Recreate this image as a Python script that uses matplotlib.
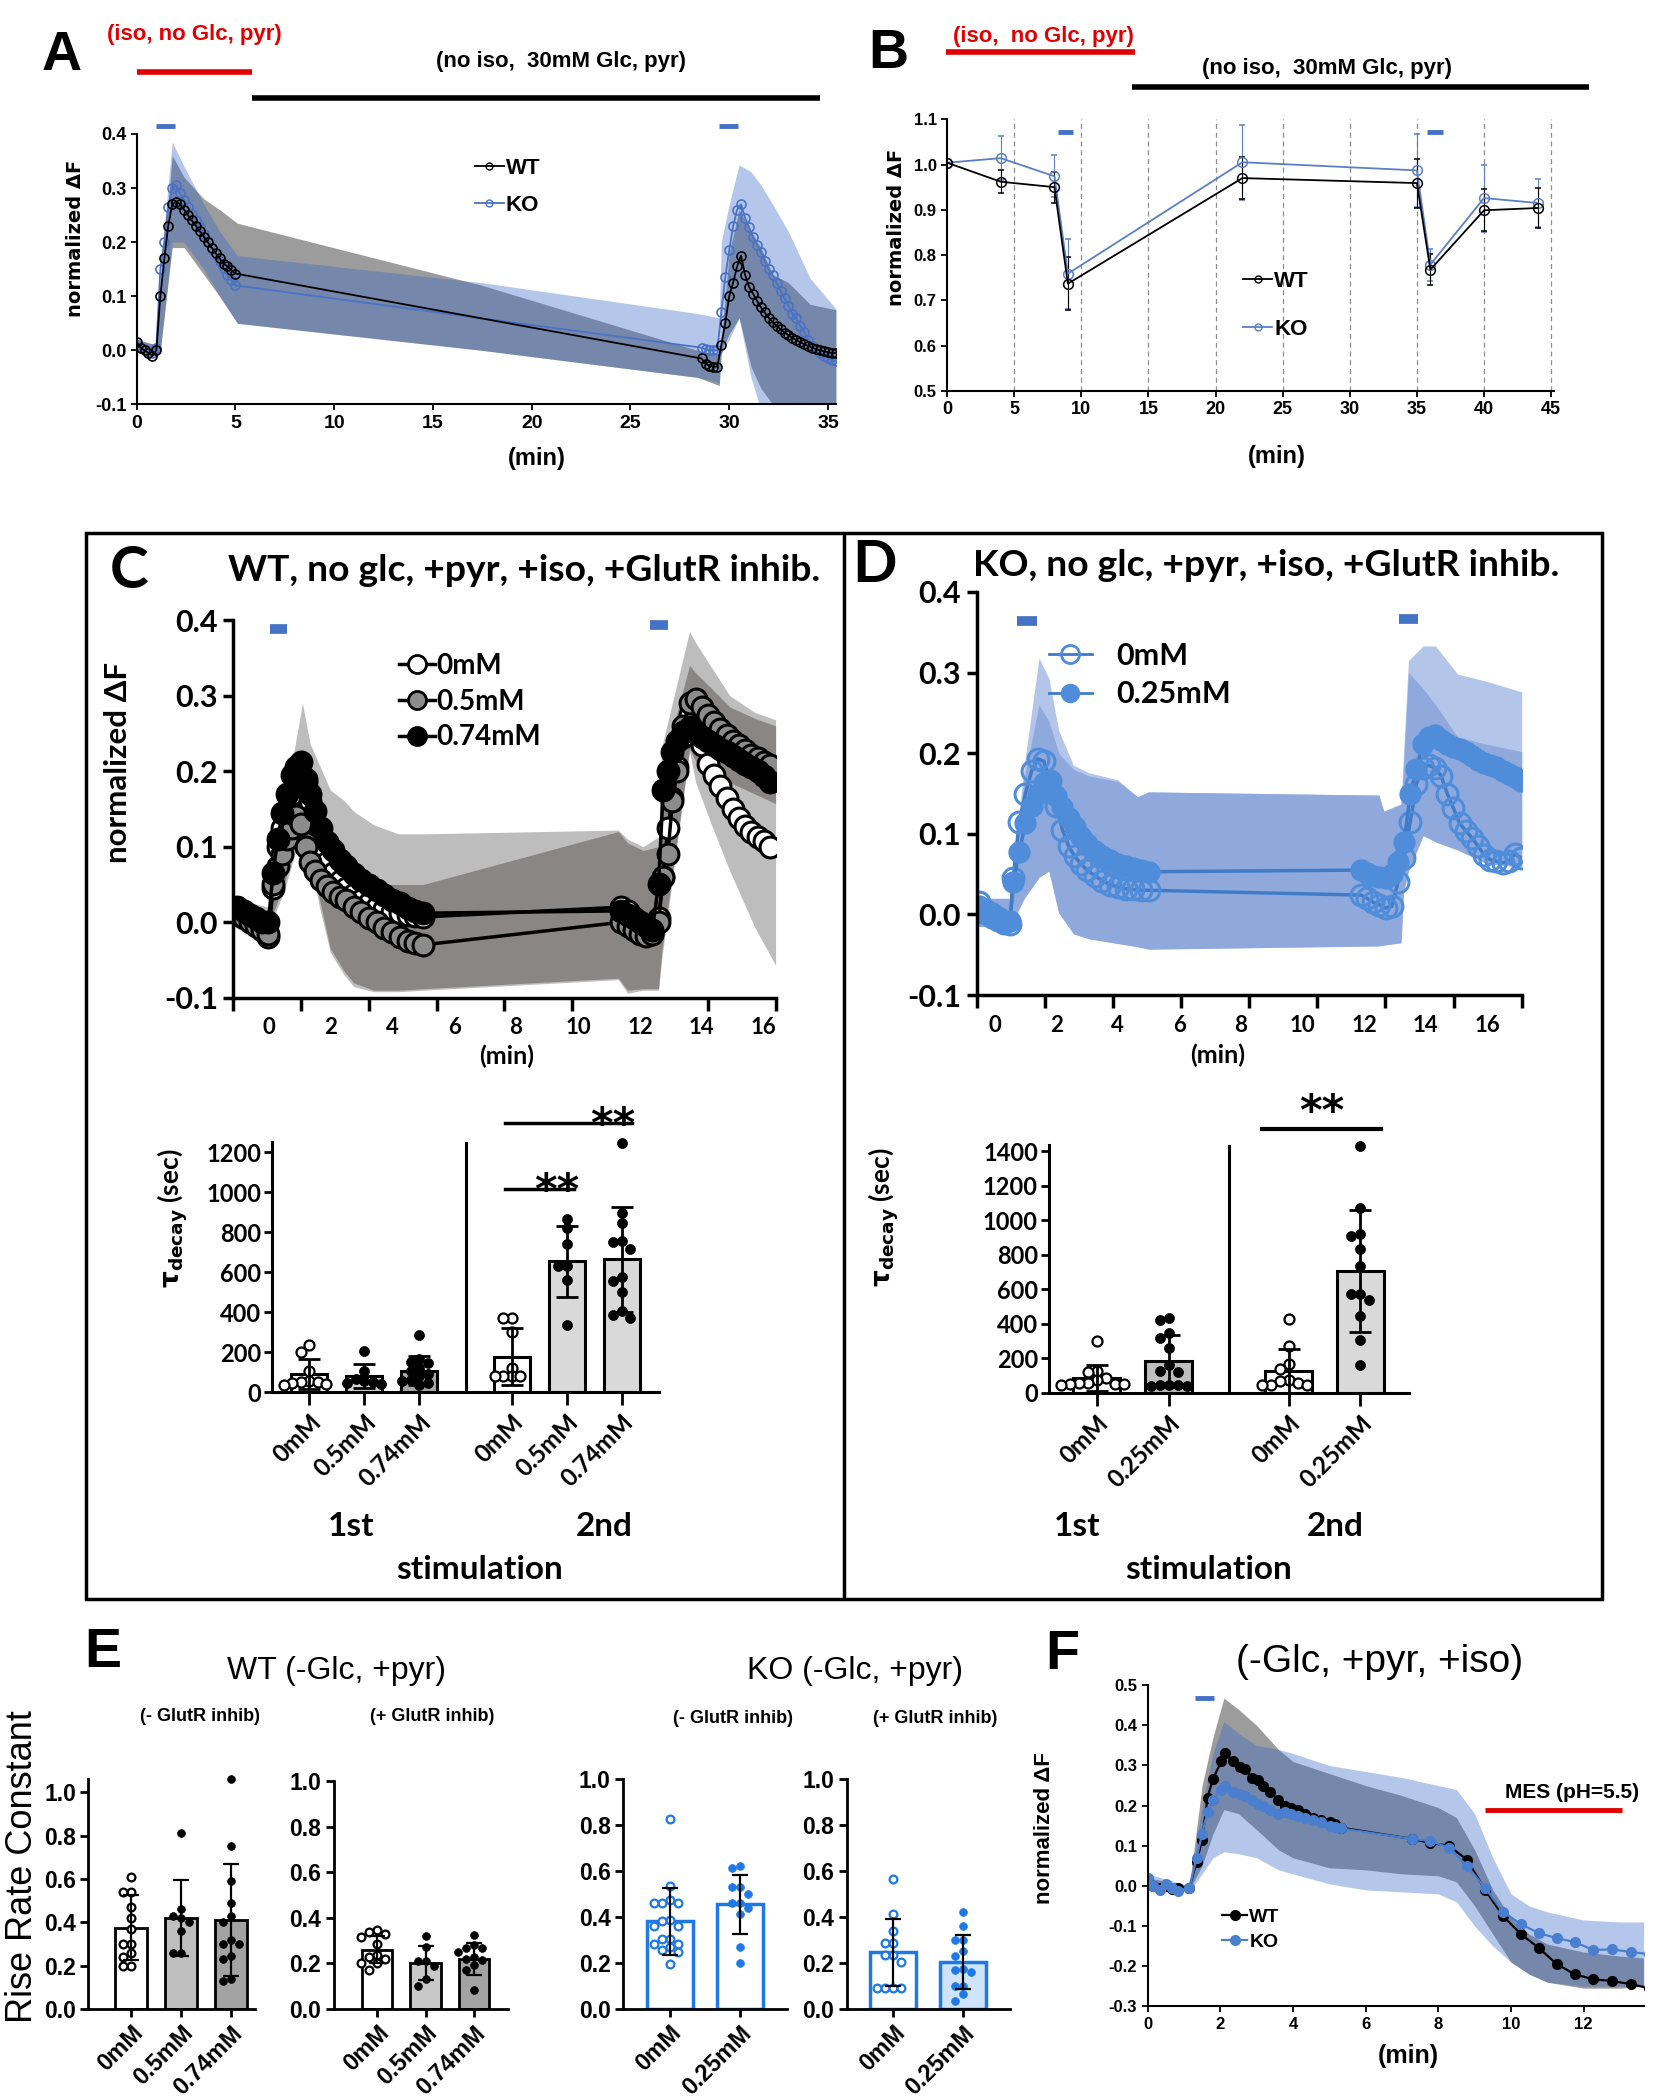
import numpy as np
import matplotlib
matplotlib.use("Agg")
import matplotlib.pyplot as plt
from matplotlib.lines import Line2D
from matplotlib.patches import Rectangle
import logging
logging.getLogger('matplotlib.font_manager').setLevel(logging.ERROR)

# ====================== DATA ======================
# ---- Panel A (time course, WT vs KO) ----
tA = [0.0, 0.2, 0.4, 0.6, 0.8, 1.0, 1.2, 1.4, 1.6, 1.8, 2.0, 2.2, 2.4, 2.6, 2.8, 3.0, 3.2, 3.4, 3.6,
      3.8, 4.0, 4.2, 4.4, 4.6, 4.8, 5.0,
      28.6, 28.8, 29.0, 29.2, 29.4, 29.6, 29.8, 30.0, 30.2, 30.4, 30.6, 30.8, 31.0, 31.2, 31.4,
      31.6, 31.8, 32.0, 32.2, 32.4, 32.6, 32.8, 33.0, 33.2, 33.4, 33.6, 33.8, 34.0, 34.2, 34.4,
      34.6, 34.8, 35.0, 35.2, 35.4]
wtA = [0.015, 0.005, 0.0, -0.005, -0.01, 0.0, 0.1, 0.17, 0.23, 0.27, 0.275, 0.27, 0.26, 0.25, 0.24,
       0.23, 0.22, 0.21, 0.2, 0.19, 0.18, 0.17, 0.16, 0.155, 0.148, 0.142,
       -0.015, -0.025, -0.028, -0.03, -0.03, 0.01, 0.05, 0.1, 0.125, 0.155, 0.175, 0.14, 0.118,
       0.105, 0.092, 0.08, 0.07, 0.06, 0.052, 0.045, 0.039, 0.033, 0.028, 0.023, 0.019, 0.015,
       0.011, 0.008, 0.005, 0.002, 0.0, -0.002, -0.003, -0.005, -0.005]
koA = [0.01, 0.005, 0.0, -0.005, -0.005, 0.005, 0.15, 0.2, 0.265, 0.3, 0.305, 0.29, 0.278, 0.265,
       0.252, 0.24, 0.228, 0.215, 0.203, 0.19, 0.178, 0.165, 0.152, 0.14, 0.13, 0.12,
       0.005, 0.002, 0.0, 0.0, 0.0, 0.07, 0.135, 0.185, 0.23, 0.26, 0.27, 0.245, 0.228, 0.21,
       0.195, 0.182, 0.165, 0.15, 0.139, 0.125, 0.11, 0.096, 0.082, 0.068, 0.059, 0.045, 0.034,
       0.02, 0.008, 0.003, -0.005, -0.01, -0.015, -0.018, -0.02]
tA_band = [0.0, 1.0, 1.2, 1.8, 2.4, 3.4, 4.2, 5.1, 17.5, 28.4, 29.5, 29.6, 30.0, 30.5, 31.1, 31.6,
           32.2, 33.0, 34.1, 35.4]
wtA_up = [0.02, 0.01, 0.1, 0.36, 0.32, 0.28, 0.26, 0.235, 0.12, 0.0, -0.01, 0.02, 0.18, 0.26, 0.22,
          0.19, 0.14, 0.125, 0.085, 0.075]
wtA_lo = [0.0, -0.012, 0.0, 0.19, 0.19, 0.14, 0.1, 0.05, 0.0, -0.05, -0.065, 0.0, 0.03, 0.06,
          -0.03, -0.07, -0.1, -0.11, -0.11, -0.11]
koA_up = [0.02, 0.01, 0.15, 0.385, 0.34, 0.27, 0.22, 0.175, 0.125, 0.068, 0.06, 0.2, 0.27, 0.343,
          0.33, 0.306, 0.27, 0.219, 0.133, 0.077]
koA_lo = [0.0, -0.015, 0.0, 0.2, 0.2, 0.15, 0.1, 0.05, 0.0, -0.05, -0.06, -0.005, 0.02, 0.06,
          -0.05, -0.11, -0.11, -0.11, -0.11, -0.11]

# ---- Panel B ----
tB = [0, 4, 8, 9, 22, 35, 36, 40, 44]
wtB = [1.004, 0.962, 0.95, 0.737, 0.97, 0.959, 0.768, 0.899, 0.904]
wtB_err = [0.0, 0.025, 0.034, 0.058, 0.046, 0.054, 0.035, 0.046, 0.045]
koB = [1.004, 1.014, 0.974, 0.759, 1.005, 0.987, 0.779, 0.926, 0.915]
koB_err = [0.0, 0.049, 0.046, 0.077, 0.083, 0.08, 0.035, 0.074, 0.053]

# ---- Panel C (WT, glutamate-receptor inhibition) ----
tC = [-1.0, -0.8, -0.6, -0.4, -0.2, 0.0, 0.15, 0.3, 0.45, 0.6, 0.75, 0.9, 1.05, 1.2, 1.35, 1.5,
      1.7, 1.9, 2.1, 2.3, 2.5, 2.75, 3.0, 3.25, 3.5, 3.75, 4.0, 4.25, 4.5, 4.75, 5.0,
      11.4, 11.6, 11.8, 12.0, 12.2, 12.4, 12.6, 12.75, 12.9, 13.05, 13.2, 13.4, 13.6, 13.8, 14.0,
      14.2, 14.4, 14.6, 14.8, 15.0, 15.2, 15.4, 15.6, 15.8, 16.0, 16.2]
C_0mM = [0.015, 0.01, 0.005, 0.0, -0.01, -0.02, 0.045, 0.1, 0.125, 0.15, 0.17, 0.185, 0.19, 0.185,
         0.16, 0.13, 0.1, 0.08, 0.065, 0.055, 0.045, 0.037, 0.03, 0.025, 0.02, 0.017, 0.014,
         0.012, 0.01, 0.008, 0.007,
         0.02, 0.015, 0.005, -0.005, -0.01, -0.015, 0.005, 0.06, 0.125, 0.165, 0.205, 0.245,
         0.275, 0.26, 0.235, 0.21, 0.195, 0.18, 0.165, 0.15, 0.138, 0.128, 0.12, 0.113, 0.107, 0.1]
C_05mM = [0.01, 0.005, 0.0, -0.005, -0.01, -0.015, 0.05, 0.075, 0.09, 0.11, 0.125, 0.14, 0.13,
          0.1, 0.08, 0.068, 0.056, 0.048, 0.04, 0.034, 0.029, 0.02, 0.013, 0.006, 0.0, -0.007,
          -0.013, -0.02, -0.025, -0.028, -0.03,
          0.0, -0.005, -0.01, -0.015, -0.018, -0.015, 0.0, 0.06, 0.09, 0.16, 0.2, 0.26, 0.29,
          0.295, 0.285, 0.275, 0.265, 0.256, 0.248, 0.24, 0.234, 0.228, 0.222, 0.217, 0.212, 0.208]
C_074mM = [0.02, 0.015, 0.01, 0.005, 0.0, 0.0, 0.065, 0.11, 0.145, 0.17, 0.195, 0.205, 0.212,
           0.19, 0.17, 0.147, 0.125, 0.106, 0.095, 0.082, 0.075, 0.064, 0.056, 0.049, 0.043,
           0.036, 0.03, 0.025, 0.019, 0.015, 0.012,
           0.015, 0.01, 0.005, 0.0, -0.005, -0.01, 0.05, 0.175, 0.2, 0.225, 0.24, 0.252, 0.258,
           0.252, 0.245, 0.24, 0.235, 0.23, 0.225, 0.22, 0.215, 0.21, 0.205, 0.2, 0.193, 0.186]
tC_band = [-1.14, -0.5, 0.0, 0.5, 1.1, 1.35, 1.65, 2.0, 2.45, 2.75, 3.4, 4.2, 5.0, 11.3, 11.6,
           12.1, 12.6, 12.7, 13.6, 13.8, 14.3, 14.9, 15.7, 16.38]
C_outer_up = [0.03, 0.025, 0.02, 0.15, 0.29, 0.236, 0.208, 0.175, 0.161, 0.147, 0.129, 0.117,
              0.117, 0.122, 0.11, 0.1, 0.113, 0.231, 0.385, 0.37, 0.338, 0.3, 0.278, 0.268]
C_outer_lo = [0.0, -0.005, -0.01, 0.04, 0.124, 0.08, 0.02, -0.04, -0.07, -0.085, -0.092, -0.092,
              -0.09, -0.076, -0.094, -0.09, -0.09, -0.05, 0.226, 0.185, 0.13, 0.068, -0.006,
              -0.057]
C_inner_up = [0.025, 0.02, 0.015, 0.12, 0.23, 0.17, 0.12, 0.073, 0.065, 0.059, 0.05, 0.05, 0.05,
              0.12, 0.105, 0.095, 0.1, 0.2, 0.34, 0.33, 0.31, 0.285, 0.27, 0.26]
C_inner_lo = [0.005, 0.0, -0.005, 0.05, 0.13, 0.09, 0.03, -0.035, -0.065, -0.08, -0.09, -0.09,
              -0.088, -0.074, -0.09, -0.088, -0.088, -0.04, 0.23, 0.213, 0.2, 0.185, 0.17, 0.157]

C_groups = ["0mM", "0.5mM", "0.74mM", "0mM", "0.5mM", "0.74mM"]
C_tau_mean = [90, 80, 107, 177, 654, 664]
C_tau_sd = [77, 60, 72, 142, 179, 261]
C_tau_pts = [[235, 200, 104, 55, 50, 48, 45, 40, 35],
             [204, 104, 65, 55, 50, 45, 40],
             [285, 165, 150, 145, 120, 105, 90, 78, 62, 55, 45, 37],
             [372, 370, 300, 120, 78, 78, 78, 78],
             [868, 823, 741, 633, 633, 563, 334],
             [1247, 898, 847, 756, 750, 716, 576, 554, 499, 407, 388, 371]]

# ---- Panel D (KO, glutamate-receptor inhibition) ----
tD = [-0.5, -0.3, -0.1, 0.1, 0.3, 0.5, 0.6, 0.8, 1.0, 1.2, 1.4, 1.6, 1.8, 2.0, 2.2, 2.4, 2.6,
      2.8, 3.0, 3.25, 3.5, 3.75, 4.0, 4.25, 4.5, 4.75, 5.0,
      11.9, 12.1, 12.3, 12.5, 12.7, 12.9, 13.1, 13.3, 13.5, 13.7, 13.9, 14.1, 14.3, 14.5, 14.7,
      14.9, 15.1, 15.3, 15.5, 15.7, 15.9, 16.1, 16.3, 16.5, 16.7, 16.9, 17.1]
D_0mM = [0.015, 0.005, 0.0, -0.005, -0.01, -0.012, 0.045, 0.115, 0.15, 0.178, 0.193, 0.19, 0.165,
         0.135, 0.105, 0.085, 0.072, 0.063, 0.055, 0.048, 0.042, 0.037, 0.034, 0.032, 0.031,
         0.03, 0.03,
         0.024, 0.02, 0.015, 0.012, 0.008, 0.01, 0.04, 0.07, 0.115, 0.162, 0.182, 0.185, 0.182,
         0.172, 0.15, 0.132, 0.113, 0.104, 0.095, 0.085, 0.074, 0.068, 0.066, 0.064, 0.066,
         0.075, 0.07]
D_025mM = [0.01, 0.0, -0.005, -0.008, -0.01, -0.008, 0.04, 0.078, 0.113, 0.135, 0.15, 0.163,
           0.163, 0.147, 0.133, 0.12, 0.108, 0.096, 0.087, 0.079, 0.072, 0.067, 0.063, 0.06,
           0.058, 0.055, 0.053,
           0.055, 0.052, 0.048, 0.046, 0.045, 0.05, 0.065, 0.09, 0.15, 0.18, 0.212, 0.22, 0.222,
           0.216, 0.212, 0.208, 0.205, 0.201, 0.197, 0.192, 0.188, 0.185, 0.183, 0.178, 0.174,
           0.17, 0.165]
tD_band = [-0.59, 0.5, 0.96, 1.44, 1.76, 2.08, 2.56, 3.04, 4.0, 4.64, 5.0, 12.48, 12.64, 13.2,
           13.28, 13.44, 13.92, 14.32, 15.04, 16.0, 17.12]
D_outer_up = [0.02, 0.02, 0.185, 0.318, 0.293, 0.228, 0.185, 0.176, 0.167, 0.146, 0.152, 0.148,
              0.128, 0.137, 0.2, 0.315, 0.333, 0.333, 0.298, 0.289, 0.276]
D_outer_lo = [-0.015, -0.015, 0.02, 0.046, 0.054, 0.002, -0.024, -0.03, -0.036, -0.04, -0.043,
              -0.039, -0.038, -0.035, 0.028, 0.054, 0.098, 0.09, 0.08, 0.063, 0.059]
D_inner_up = [0.02, 0.02, 0.17, 0.26, 0.24, 0.2, 0.18, 0.172, 0.165, 0.146, 0.152, 0.148, 0.128,
              0.137, 0.18, 0.3, 0.28, 0.26, 0.22, 0.211, 0.202]
D_inner_lo = [-0.015, -0.015, 0.02, 0.046, 0.054, 0.002, -0.024, -0.03, -0.036, -0.04, -0.043,
              -0.039, -0.038, -0.035, 0.028, 0.054, 0.098, 0.09, 0.08, 0.063, 0.059]

D_groups = ["0mM", "0.25mM", "0mM", "0.25mM"]
D_tau_mean = [87, 185, 127, 705]
D_tau_sd = [77, 153, 126, 353]
D_tau_pts = [[299, 128, 122, 85, 75, 60, 55, 52, 50, 50, 48],
             [434, 425, 347, 319, 261, 164, 125, 120, 48, 46, 44, 42, 40],
             [429, 270, 168, 139, 73, 68, 58, 48, 48, 48],
             [1429, 1071, 923, 911, 834, 734, 575, 575, 537, 448, 309, 160]]

# ---- Panel E (rise rate constants) ----
E_wt_groups = ["0mM", "0.5mM", "0.74mM"]
E_ko_groups = ["0mM", "0.25mM"]
E1_mean = [0.375, 0.42, 0.41]
E1_sd = [0.15, 0.175, 0.26]
E1_pts = [[0.61, 0.54, 0.54, 0.47, 0.42, 0.37, 0.3, 0.3, 0.26, 0.24, 0.2, 0.2],
          [0.81, 0.46, 0.43, 0.42, 0.4, 0.36, 0.26, 0.26],
          [1.06, 0.75, 0.59, 0.49, 0.43, 0.4, 0.32, 0.3, 0.3, 0.245, 0.23, 0.14, 0.13]]
E2_mean = [0.26, 0.2, 0.22]
E2_sd = [0.06, 0.075, 0.07]
E2_pts = [[0.345, 0.338, 0.33, 0.316, 0.284, 0.236, 0.229, 0.221, 0.202, 0.202, 0.17],
          [0.32, 0.27, 0.21, 0.21, 0.19, 0.13, 0.1],
          [0.323, 0.28, 0.269, 0.269, 0.25, 0.229, 0.221, 0.214, 0.192, 0.17, 0.083]]
E3_mean = [0.38, 0.455]
E3_sd = [0.145, 0.128]
E3_pts = [[0.825, 0.533, 0.474, 0.458, 0.458, 0.458, 0.387, 0.382, 0.358, 0.358, 0.304, 0.304,
           0.283, 0.283, 0.269, 0.255, 0.248, 0.197],
          [0.62, 0.61, 0.53, 0.53, 0.5, 0.46, 0.46, 0.44, 0.41, 0.27, 0.2]]
E4_mean = [0.245, 0.205]
E4_sd = [0.145, 0.117]
E4_pts = [[0.562, 0.413, 0.339, 0.285, 0.285, 0.234, 0.234, 0.204, 0.092, 0.092, 0.092, 0.092],
          [0.42, 0.36, 0.3, 0.3, 0.25, 0.23, 0.175, 0.17, 0.16, 0.1, 0.1, 0.065, 0.035]]

# ---- Panel F ----
tF = [0.0, 0.16, 0.34, 0.52, 0.66, 0.84, 1.15, 1.35, 1.5, 1.65, 1.8, 2.03, 2.13, 2.34, 2.54, 2.68,
      2.86, 3.04, 3.18, 3.36, 3.59, 3.78, 3.96, 4.14, 4.33, 4.56, 4.78, 5.01, 5.15, 5.33, 7.28,
      7.78, 8.29, 8.79, 9.29, 9.78, 10.27, 10.77, 11.26, 11.75, 12.27, 12.78, 13.3, 13.8]
wtF = [0.01, 0.0, -0.005, 0.0, -0.008, -0.005, -0.005, 0.06, 0.115, 0.22, 0.267, 0.31, 0.33, 0.31,
       0.295, 0.29, 0.27, 0.265, 0.25, 0.235, 0.215, 0.2, 0.195, 0.19, 0.18, 0.17, 0.165, 0.16,
       0.155, 0.145, 0.117, 0.107, 0.1, 0.065, -0.01, -0.075, -0.12, -0.155, -0.195, -0.22,
       -0.233, -0.237, -0.245, -0.255]
koF = [0.02, 0.0, -0.01, 0.005, -0.005, -0.012, -0.005, 0.07, 0.13, 0.184, 0.215, 0.24, 0.25,
       0.235, 0.23, 0.225, 0.215, 0.205, 0.2, 0.19, 0.18, 0.185, 0.18, 0.175, 0.17, 0.165, 0.16,
       0.15, 0.147, 0.143, 0.117, 0.112, 0.095, 0.05, -0.005, -0.065, -0.095, -0.118, -0.13,
       -0.14, -0.16, -0.158, -0.165, -0.17]
tF_band = [0.0, 1.15, 1.5, 1.8, 2.1, 2.5, 3.0, 3.6, 4.0, 5.0, 6.0, 7.0, 8.0, 8.5, 9.0, 9.5, 10.0,
           10.5, 11.0, 12.0, 13.0, 13.65]
wtF_up = [0.02, 0.0, 0.25, 0.37, 0.468, 0.44, 0.4, 0.34, 0.31, 0.28, 0.25, 0.225, 0.195, 0.17,
          0.09, -0.01, -0.08, -0.12, -0.145, -0.165, -0.175, -0.18]
wtF_lo = [0.0, -0.01, 0.05, 0.13, 0.19, 0.18, 0.14, 0.09, 0.07, 0.045, 0.04, 0.03, 0.025, 0.01,
          -0.05, -0.12, -0.19, -0.22, -0.24, -0.255, -0.255, -0.25]
koF_up = [0.03, 0.0, 0.2, 0.33, 0.41, 0.38, 0.35, 0.34, 0.33, 0.3, 0.285, 0.27, 0.25, 0.24, 0.18,
          0.07, -0.02, -0.05, -0.065, -0.085, -0.09, -0.09]
koF_lo = [0.0, -0.015, 0.03, 0.07, 0.085, 0.08, 0.07, 0.04, 0.03, 0.005, -0.01, -0.015, -0.02,
          -0.04, -0.1, -0.15, -0.19, -0.22, -0.24, -0.25, -0.25, -0.25]

# ====================== STYLE / HELPERS ======================
NARROW = ['Liberation Sans Narrow', 'Liberation Sans', 'DejaVu Sans']
CAL = ['Lato', 'DejaVu Sans']
ARIAL = ['Liberation Sans', 'DejaVu Sans']
WIDE = ['DejaVu Sans']
BLUE_STIM = '#4472c4'
WT_FILL, WT_A = '#5a5a5a', 0.6
KO_FILL, KO_A = '#3467c6', 0.37

W, H = 1237.0, 1568.0
fig = plt.figure(figsize=(16.57, 21.0), dpi=100)


def add_ax(x0, y0, x1, y1):
    return fig.add_axes([x0 / W, 1 - y1 / H, (x1 - x0) / W, (y1 - y0) / H])


def ftext(x, y, s, **kw):
    kw.setdefault('ha', 'center')
    kw.setdefault('va', 'center')
    return fig.text(x / W, 1 - y / H, s, **kw)


def fline(x0, y0, x1, y1, **kw):
    fig.add_artist(Line2D([x0 / W, x1 / W], [1 - y0 / H, 1 - y1 / H],
                          transform=fig.transFigure, solid_capstyle='butt', **kw))


def base_style(ax, lw):
    for s in ('top', 'right'):
        ax.spines[s].set_visible(False)
    for s in ('left', 'bottom'):
        ax.spines[s].set_linewidth(lw)
    ax.patch.set_alpha(0)


def swarm(ax, vals, center, diam_px):
    bb = ax.get_position()
    w_px = bb.width * fig.get_figwidth() * fig.dpi
    h_px = bb.height * fig.get_figheight() * fig.dpi
    x0, x1 = ax.get_xlim()
    y0, y1 = ax.get_ylim()
    dx = diam_px * (x1 - x0) / w_px
    dy = diam_px * (y1 - y0) / h_px
    xs, placed = [], []
    for v in vals:
        x = center
        for k in (0, -1, 1, -2, 2, -3, 3, -4, 4):
            x = center + k * dx
            if all(((x - px) / dx) ** 2 + ((v - py) / dy) ** 2 >= 0.9 for px, py in placed):
                break
        placed.append((x, v))
        xs.append(x)
    return xs


def bar_panel(ax, pos, means, sds, pts, fills, edge, open_flags, pt_color, diam_px, ms,
              bar_lw, width, capsize, elw):
    ax.bar(pos, means, width=width, color=fills, edgecolor=edge, linewidth=bar_lw, zorder=2)
    for p, vals, is_open in zip(pos, pts, open_flags):
        xs = swarm(ax, vals, p, diam_px)
        ax.scatter(xs, vals, s=ms ** 2, facecolor='white' if is_open else pt_color,
                   edgecolor=pt_color, linewidth=1.6 if is_open else 0.5, zorder=4, clip_on=False)
    ax.errorbar(pos, means, yerr=sds, fmt='none', ecolor='k', elinewidth=elw, capsize=capsize,
                capthick=elw, zorder=5)


# ====================== PANEL A ======================
axA = add_ax(102, 100, 624, 302)
base_style(axA, 1.5)
axA.set_xlim(0, 35.4)
axA.set_ylim(-0.1, 0.4)
axA.fill_between(tA_band, wtA_lo, wtA_up, color=WT_FILL, alpha=WT_A, lw=0)
axA.fill_between(tA_band, koA_lo, koA_up, color=KO_FILL, alpha=KO_A, lw=0)
axA.plot(tA, koA, color='#4a72c4', lw=1.3, marker='o', ms=6.5, mfc='none', mew=1.2)
axA.plot(tA, wtA, color='k', lw=1.3, marker='o', ms=6.5, mfc='none', mew=1.2)
for x0, x1 in [(1.0, 1.95), (29.5, 30.45)]:
    axA.plot([x0, x1], [0.415, 0.415], color=BLUE_STIM, lw=3.5, solid_capstyle='butt',
             clip_on=False)
yt = [-0.1, 0.0, 0.1, 0.2, 0.3, 0.4]
axA.set_yticks(yt, labels=[f"{v:.1f}" for v in yt], fontsize=13, fontweight='bold', family=NARROW)
axA.set_xticks(range(0, 36, 5), labels=[str(v) for v in range(0, 36, 5)], fontsize=14,
               fontweight='bold', family=NARROW)
axA.tick_params(length=4, width=1.3, direction='out')
hA = [Line2D([], [], color='k', lw=1.3, marker='o', ms=5, mfc='none'),
      Line2D([], [], color='#4a72c4', lw=1.3, marker='o', ms=5, mfc='none')]
axA.legend(hA, ['WT', 'KO'], loc='upper left', bbox_to_anchor=(0.455, 0.985), frameon=False,
           handlelength=1.3, handletextpad=0.1, labelspacing=0.7,
           prop=dict(family=NARROW, weight='bold', size=16))
ftext(46, 42, 'A', fontsize=40, fontweight='bold', family=ARIAL)
ftext(145, 26, '(iso, no Glc, pyr)', color='#e00000', fontsize=16, fontweight='bold', family=NARROW)
fline(102, 54, 188, 54, color='#e00000', lw=4)
ftext(419, 46, '(no iso,  30mM Glc, pyr)', fontsize=16, fontweight='bold', family=NARROW)
fline(188, 73, 612, 73, color='k', lw=4)
ftext(56, 178, 'normalized ΔF', rotation=90, fontsize=14, fontweight='bold', family=WIDE)
ftext(401, 342, '(min)', fontsize=17, fontweight='bold', family=NARROW)

# ====================== PANEL B ======================
axB = add_ax(707, 89, 1160, 292)
base_style(axB, 1.5)
axB.set_xlim(0, 45.2)
axB.set_ylim(0.5, 1.1)
for xv in range(5, 46, 5):
    axB.axvline(xv, color='#8c8c8c', ls=(0, (4, 3)), lw=0.9, zorder=0)
axB.errorbar(tB, koB, yerr=koB_err, color='#5b7fc7', lw=1.3, marker='o', ms=7, mfc='none',
             mew=1.1, capsize=2.5, elinewidth=0.8, capthick=0.8)
axB.errorbar(tB, wtB, yerr=wtB_err, color='k', lw=1.3, marker='o', ms=7, mfc='none', mew=1.1,
             capsize=2.5, elinewidth=0.8, capthick=0.8)
for x0, x1 in [(8.25, 9.38), (35.74, 36.95)]:
    axB.plot([x0, x1], [1.072, 1.072], color=BLUE_STIM, lw=3.5, solid_capstyle='butt',
             clip_on=False)
ytB = [0.5, 0.6, 0.7, 0.8, 0.9, 1.0, 1.1]
axB.set_yticks(ytB, labels=[f"{v:.1f}" for v in ytB], fontsize=12, fontweight='bold', family=NARROW)
axB.set_xticks(range(0, 46, 5), labels=[str(v) for v in range(0, 46, 5)], fontsize=13,
               fontweight='bold', family=NARROW)
axB.tick_params(length=4, width=1.3, direction='out')
hB = [Line2D([], [], color='k', lw=1.3, marker='o', ms=5, mfc='none'),
      Line2D([], [], color='#5b7fc7', lw=1.3, marker='o', ms=5, mfc='none')]
axB.legend(hB, ['WT', 'KO'], loc='upper left', bbox_to_anchor=(0.455, 0.515), frameon=False,
           handlelength=1.3, handletextpad=0.1, labelspacing=1.2,
           prop=dict(family=NARROW, weight='bold', size=16))
ftext(663, 40, 'B', fontsize=40, fontweight='bold', family=ARIAL)
ftext(779, 27, '(iso,  no Glc, pyr)', color='#e00000', fontsize=16, fontweight='bold',
      family=NARROW)
fline(706, 39, 847, 39, color='#e00000', lw=4)
ftext(991, 51, '(no iso,  30mM Glc, pyr)', fontsize=16, fontweight='bold', family=NARROW)
fline(845, 65, 1186, 65, color='k', lw=4)
ftext(669, 170, 'normalized ΔF', rotation=90, fontsize=14, fontweight='bold', family=WIDE)
ftext(953, 341, '(min)', fontsize=17, fontweight='bold', family=NARROW)

# ====================== PANELS C / D frame ======================
fig.add_artist(Rectangle((64 / W, 1 - 1194 / H), (1196 - 64) / W, (1194 - 398) / H, fill=False,
                         lw=2.5, ec='k', transform=fig.transFigure))
fline(630, 398, 630, 1194, color='k', lw=2.5)


def trace_axes(ax, xlim):
    base_style(ax, 2.5)
    ax.set_xlim(*xlim)
    ax.set_ylim(-0.1, 0.4)
    ytc = [-0.1, 0.0, 0.1, 0.2, 0.3, 0.4]
    ax.set_yticks(ytc, labels=[f"{v:.1f}" for v in ytc], fontsize=22, fontweight='bold', family=CAL)
    ax.set_xticks(range(0, 17, 2), labels=[str(v) for v in range(0, 17, 2)], fontsize=16,
                  fontweight='bold', family=CAL)
    ax.set_xticks(np.linspace(xlim[0], xlim[1], 9), minor=True)
    ax.tick_params(axis='x', which='major', length=0, pad=14)
    ax.tick_params(axis='x', which='minor', length=9, width=2.5, direction='out')
    ax.tick_params(axis='y', length=7, width=2.5, direction='out', pad=4)


# ---- C top ----
axCt = add_ax(174, 463, 579, 745)
trace_axes(axCt, (-1.14, 16.38))
axCt.fill_between(tC_band, C_outer_lo, C_outer_up, color='#bdbdbd', lw=0)
axCt.fill_between(tC_band, C_inner_lo, C_inner_up, color='#8b8686', lw=0)
for yv, fc in [(C_0mM, 'white'), (C_05mM, '#8c8c8c'), (C_074mM, 'black')]:
    axCt.plot(tC, yv, color='k', lw=2.5, marker='o', ms=15, mfc=fc, mec='k', mew=2.2)
for x0, x1, yy in [(0.04, 0.6, 0.388), (12.34, 12.9, 0.393)]:
    axCt.plot([x0, x1], [yy, yy], color=BLUE_STIM, lw=7, solid_capstyle='butt', clip_on=False)
hC = [Line2D([], [], color='k', lw=2.5, marker='o', ms=13, mfc=f, mec='k', mew=2)
      for f in ('white', '#8c8c8c', 'black')]
axCt.legend(hC, ['0mM', '0.5mM', '0.74mM'], loc='upper left', bbox_to_anchor=(0.28, 0.95),
            frameon=False, handlelength=1.3, handletextpad=0.05, labelspacing=0.35,
            borderpad=0, prop=dict(family=CAL, weight='bold', size=20))
ftext(96, 427, 'C', fontsize=42, fontweight='bold', family=CAL)
ftext(391, 426, 'WT, no glc, +pyr, +iso, +GlutR inhib.', fontsize=26.8, fontweight='bold',
      family=CAL)
ftext(88, 569, 'normalized ΔF', rotation=90, fontsize=22.5, fontweight='bold', family=CAL)
ftext(378, 789, '(min)', fontsize=18, fontweight='bold', family=CAL)

# ---- D top ----
DBLUE = '#4f8ddb'
axDt = add_ax(729, 442, 1136, 743)
trace_axes(axDt, (-0.59, 17.12))
axDt.fill_between(tD_band, D_outer_lo, D_outer_up, color='#b3c5e8', lw=0)
axDt.fill_between(tD_band, D_inner_lo, D_inner_up, color='#8fa9dc', lw=0)
axDt.plot(tD, D_0mM, color='#3f7bc6', lw=2.5, marker='o', ms=15, mfc='none', mec=DBLUE, mew=2.2)
axDt.plot(tD, D_025mM, color='#3f7bc6', lw=2.5, marker='o', ms=15, mfc=DBLUE, mec=DBLUE, mew=1)
for x0, x1, yy in [(0.72, 1.36, 0.364), (13.12, 13.76, 0.367)]:
    axDt.plot([x0, x1], [yy, yy], color=BLUE_STIM, lw=7, solid_capstyle='butt', clip_on=False)
hD = [Line2D([], [], color='#3f7bc6', lw=2, marker='o', ms=13, mfc='none', mec=DBLUE, mew=2),
      Line2D([], [], color='#3f7bc6', lw=2, marker='o', ms=13, mfc=DBLUE, mec=DBLUE)]
axDt.legend(hD, ['0mM', '0.25mM'], loc='upper left', bbox_to_anchor=(0.105, 0.915),
            frameon=False, handlelength=1.4, handletextpad=0.8, labelspacing=0.35, borderpad=0,
            prop=dict(family=CAL, weight='bold', size=22))
ftext(653, 422, 'D', fontsize=42, fontweight='bold', family=CAL)
ftext(945, 422, 'KO, no glc, +pyr, +iso, +GlutR inhib.', fontsize=26.8, fontweight='bold',
      family=CAL)
ftext(909, 788, '(min)', fontsize=18, fontweight='bold', family=CAL)


# ---- C / D bottom: tau decay bar charts ----
def tau_axes(ax, xlim, ylim, yticks, pos, labels, sep):
    base_style(ax, 2.2)
    ax.set_xlim(*xlim)
    ax.set_ylim(*ylim)
    ax.set_yticks(yticks, labels=[str(v) for v in yticks], fontsize=17, fontweight='bold',
                  family=CAL)
    ax.set_xticks(pos, labels=labels, rotation=45, ha='right', rotation_mode='anchor',
                  fontsize=17.5, fontweight='bold', family=CAL)
    ax.tick_params(axis='y', length=6, width=2, direction='out', pad=2)
    ax.tick_params(axis='x', length=9, width=2, direction='out', pad=4)
    ax.axvline(sep, color='k', lw=2.2)


C_pos = [0, 1, 2, 3.685, 4.685, 5.685]
axCb = add_ax(203.3, 852.7, 492.2, 1039.4)
tau_axes(axCb, (-0.673, 6.37), (0, 1252), list(range(0, 1201, 200)), C_pos, C_groups, 2.846)
bar_panel(axCb, C_pos, C_tau_mean, C_tau_sd, C_tau_pts,
          ['white', '#d4d4d4', '#a9a9a9', 'white', '#d9d9d9', '#d9d9d9'], 'k',
          [True, False, False, True, False, False], 'k', 8.5, 7.2, 2.2, 0.65, 8, 2)
axCb.plot([3.56, 5.87], [1349, 1349], color='k', lw=2.5, clip_on=False)
axCb.plot([3.56, 4.81], [1018, 1018], color='k', lw=2.5, clip_on=False)
axCb.text(5.53, 1330, '**', ha='center', va='center', fontsize=31, fontweight='bold',
          family=WIDE, clip_on=False)
axCb.text(4.5, 1000, '**', ha='center', va='center', fontsize=31, fontweight='bold',
          family=WIDE, clip_on=False)
ftext(129, 910, r'$\mathbf{\tau}_{\mathbf{decay}}$ (sec)', rotation=90, fontsize=19,
      fontweight='bold', family=CAL)
ftext(262, 1140, '1st', fontsize=24, fontweight='bold', family=CAL)
ftext(451, 1140, '2nd', fontsize=24, fontweight='bold', family=CAL)
ftext(358, 1172, 'stimulation', fontsize=24, fontweight='bold', family=CAL)

D_pos = [0, 1, 2.665, 3.664]
axDb = add_ax(783.1, 855.2, 1052, 1040)
tau_axes(axDb, (-0.66, 4.34), (0, 1435), list(range(0, 1401, 200)), D_pos, D_groups, 1.833)
bar_panel(axDb, D_pos, D_tau_mean, D_tau_sd, D_tau_pts,
          ['white', '#bfbfbf', 'white', '#d9d9d9'], 'k',
          [True, False, True, False], 'k', 9, 7.2, 2.2, 0.657, 8, 2)
axDb.plot([2.29, 3.95], [1531, 1531], color='k', lw=3, clip_on=False)
axDb.text(3.12, 1625, '**', ha='center', va='center', fontsize=31, fontweight='bold',
          family=WIDE, clip_on=False)
ftext(660, 909, r'$\mathbf{\tau}_{\mathbf{decay}}$ (sec)', rotation=90, fontsize=19,
      fontweight='bold', family=CAL)
ftext(804, 1140, '1st', fontsize=24, fontweight='bold', family=CAL)
ftext(997, 1140, '2nd', fontsize=24, fontweight='bold', family=CAL)
ftext(902, 1172, 'stimulation', fontsize=24, fontweight='bold', family=CAL)


# ====================== PANEL E ======================
def rise_axes(ax, xlim, ytop, labels):
    base_style(ax, 2)
    ax.set_xlim(*xlim)
    ax.set_ylim(0, ytop)
    yt = [0.0, 0.2, 0.4, 0.6, 0.8, 1.0]
    ax.set_yticks(yt, labels=[f"{v:.1f}" for v in yt], fontsize=16.5, fontweight='bold',
                  family=ARIAL)
    ax.set_xticks(range(len(labels)), labels=labels, rotation=45, ha='right',
                  rotation_mode='anchor', fontsize=17, fontweight='bold', family=ARIAL)
    ax.tick_params(length=6, width=2, direction='out', pad=3)


EBLUE = '#1e78e6'
axE1 = add_ax(66, 1328.5, 190, 1500)
rise_axes(axE1, (-0.856, 2.47), 1.06, E_wt_groups)
bar_panel(axE1, [0, 1, 2], E1_mean, E1_sd, E1_pts, ['white', '#bfbfbf', '#a3a3a3'], 'k',
          [True, False, False], 'k', 8, 5.6, 2, 0.63, 6, 1.6)
axE2 = add_ax(249, 1330, 379, 1500)
rise_axes(axE2, (-0.897, 2.69), 1.0, E_wt_groups)
bar_panel(axE2, [0, 1, 2], E2_mean, E2_sd, E2_pts, ['white', '#c8c8c8', '#a3a3a3'], 'k',
          [True, False, False], 'k', 8, 5.6, 2, 0.63, 6, 1.6)
axE3 = add_ax(465.3, 1328, 587.2, 1500)
rise_axes(axE3, (-0.665, 1.665), 1.0, E_ko_groups)
bar_panel(axE3, [0, 1], E3_mean, E3_sd, E3_pts, ['white', 'white'], EBLUE,
          [True, False], EBLUE, 8, 5.6, 2.5, 0.65, 6, 1.6)
axE4 = add_ax(632, 1328, 753.9, 1500)
rise_axes(axE4, (-0.665, 1.665), 1.0, E_ko_groups)
bar_panel(axE4, [0, 1], E4_mean, E4_sd, E4_pts, ['white', '#cfe4fa'], EBLUE,
          [True, False], EBLUE, 8, 5.6, 2.5, 0.65, 6, 1.6)

ftext(77, 1234, 'E', fontsize=40, fontweight='bold', family=ARIAL)
ftext(251, 1248, 'WT (-Glc, +pyr)', fontsize=23, family=ARIAL)
ftext(149, 1282, '(- GlutR inhib)', fontsize=13, fontweight='bold', family=ARIAL)
ftext(323, 1282, '(+ GlutR inhib)', fontsize=13, fontweight='bold', family=ARIAL)
ftext(638, 1248, 'KO (-Glc, +pyr)', fontsize=23, family=ARIAL)
ftext(547, 1283, '(- GlutR inhib)', fontsize=13, fontweight='bold', family=ARIAL)
ftext(698, 1283, '(+ GlutR inhib)', fontsize=13, fontweight='bold', family=ARIAL)
ftext(17, 1394, 'Rise Rate Constant', rotation=90, fontsize=26, family=ARIAL)

# ====================== PANEL F ======================
axF = add_ax(856.7, 1258.3, 1227, 1498)
base_style(axF, 1.5)
axF.set_xlim(0, 13.65)
axF.set_ylim(-0.3, 0.5)
axF.fill_between(tF_band, wtF_lo, wtF_up, color=WT_FILL, alpha=WT_A, lw=0)
axF.fill_between(tF_band, koF_lo, koF_up, color=KO_FILL, alpha=KO_A, lw=0)
axF.plot(tF, wtF, color='k', lw=1.6, marker='o', ms=7, mfc='k', mec='k')
axF.plot(tF, koF, color='#4a7fd0', lw=1.6, marker='o', ms=7, mfc='#4a7fd0', mec='#4a7fd0')
axF.plot([1.3, 1.82], [0.467, 0.467], color=BLUE_STIM, lw=3.5, solid_capstyle='butt',
         clip_on=False)
axF.plot([9.28, 13.05], [0.188, 0.188], color='#e00000', lw=3.5, solid_capstyle='butt')
axF.text(11.68, 0.232, 'MES (pH=5.5)', ha='center', va='center', fontsize=15, fontweight='bold',
         family=ARIAL)
ytF = [-0.3, -0.2, -0.1, 0.0, 0.1, 0.2, 0.3, 0.4, 0.5]
axF.set_yticks(ytF, labels=[f"{v:.1f}" for v in ytF], fontsize=12, fontweight='bold', family=ARIAL)
axF.set_xticks(range(0, 13, 2), labels=[str(v) for v in range(0, 13, 2)], fontsize=12,
               fontweight='bold', family=ARIAL)
axF.tick_params(length=4, width=1.3, direction='out')
hF = [Line2D([], [], color='k', lw=1.6, marker='o', ms=7, mfc='k'),
      Line2D([], [], color='#4a7fd0', lw=1.6, marker='o', ms=7, mfc='#4a7fd0', mec='#4a7fd0')]
axF.legend(hF, ['WT', 'KO'], loc='upper left', bbox_to_anchor=(0.115, 0.36), frameon=False,
           handlelength=1.3, handletextpad=0.1, labelspacing=0.4,
           prop=dict(family=ARIAL, weight='bold', size=14))
ftext(793, 1236, 'F', fontsize=40, fontweight='bold', family=ARIAL)
ftext(1030, 1241, '(-Glc, +pyr, +iso)', fontsize=28, family=ARIAL)
ftext(780, 1365, 'normalized ΔF', rotation=90, fontsize=16, fontweight='bold', family=ARIAL)
ftext(1051, 1535, '(min)', fontsize=18, fontweight='bold', family=ARIAL)

fig.savefig('out.png', dpi=100)
